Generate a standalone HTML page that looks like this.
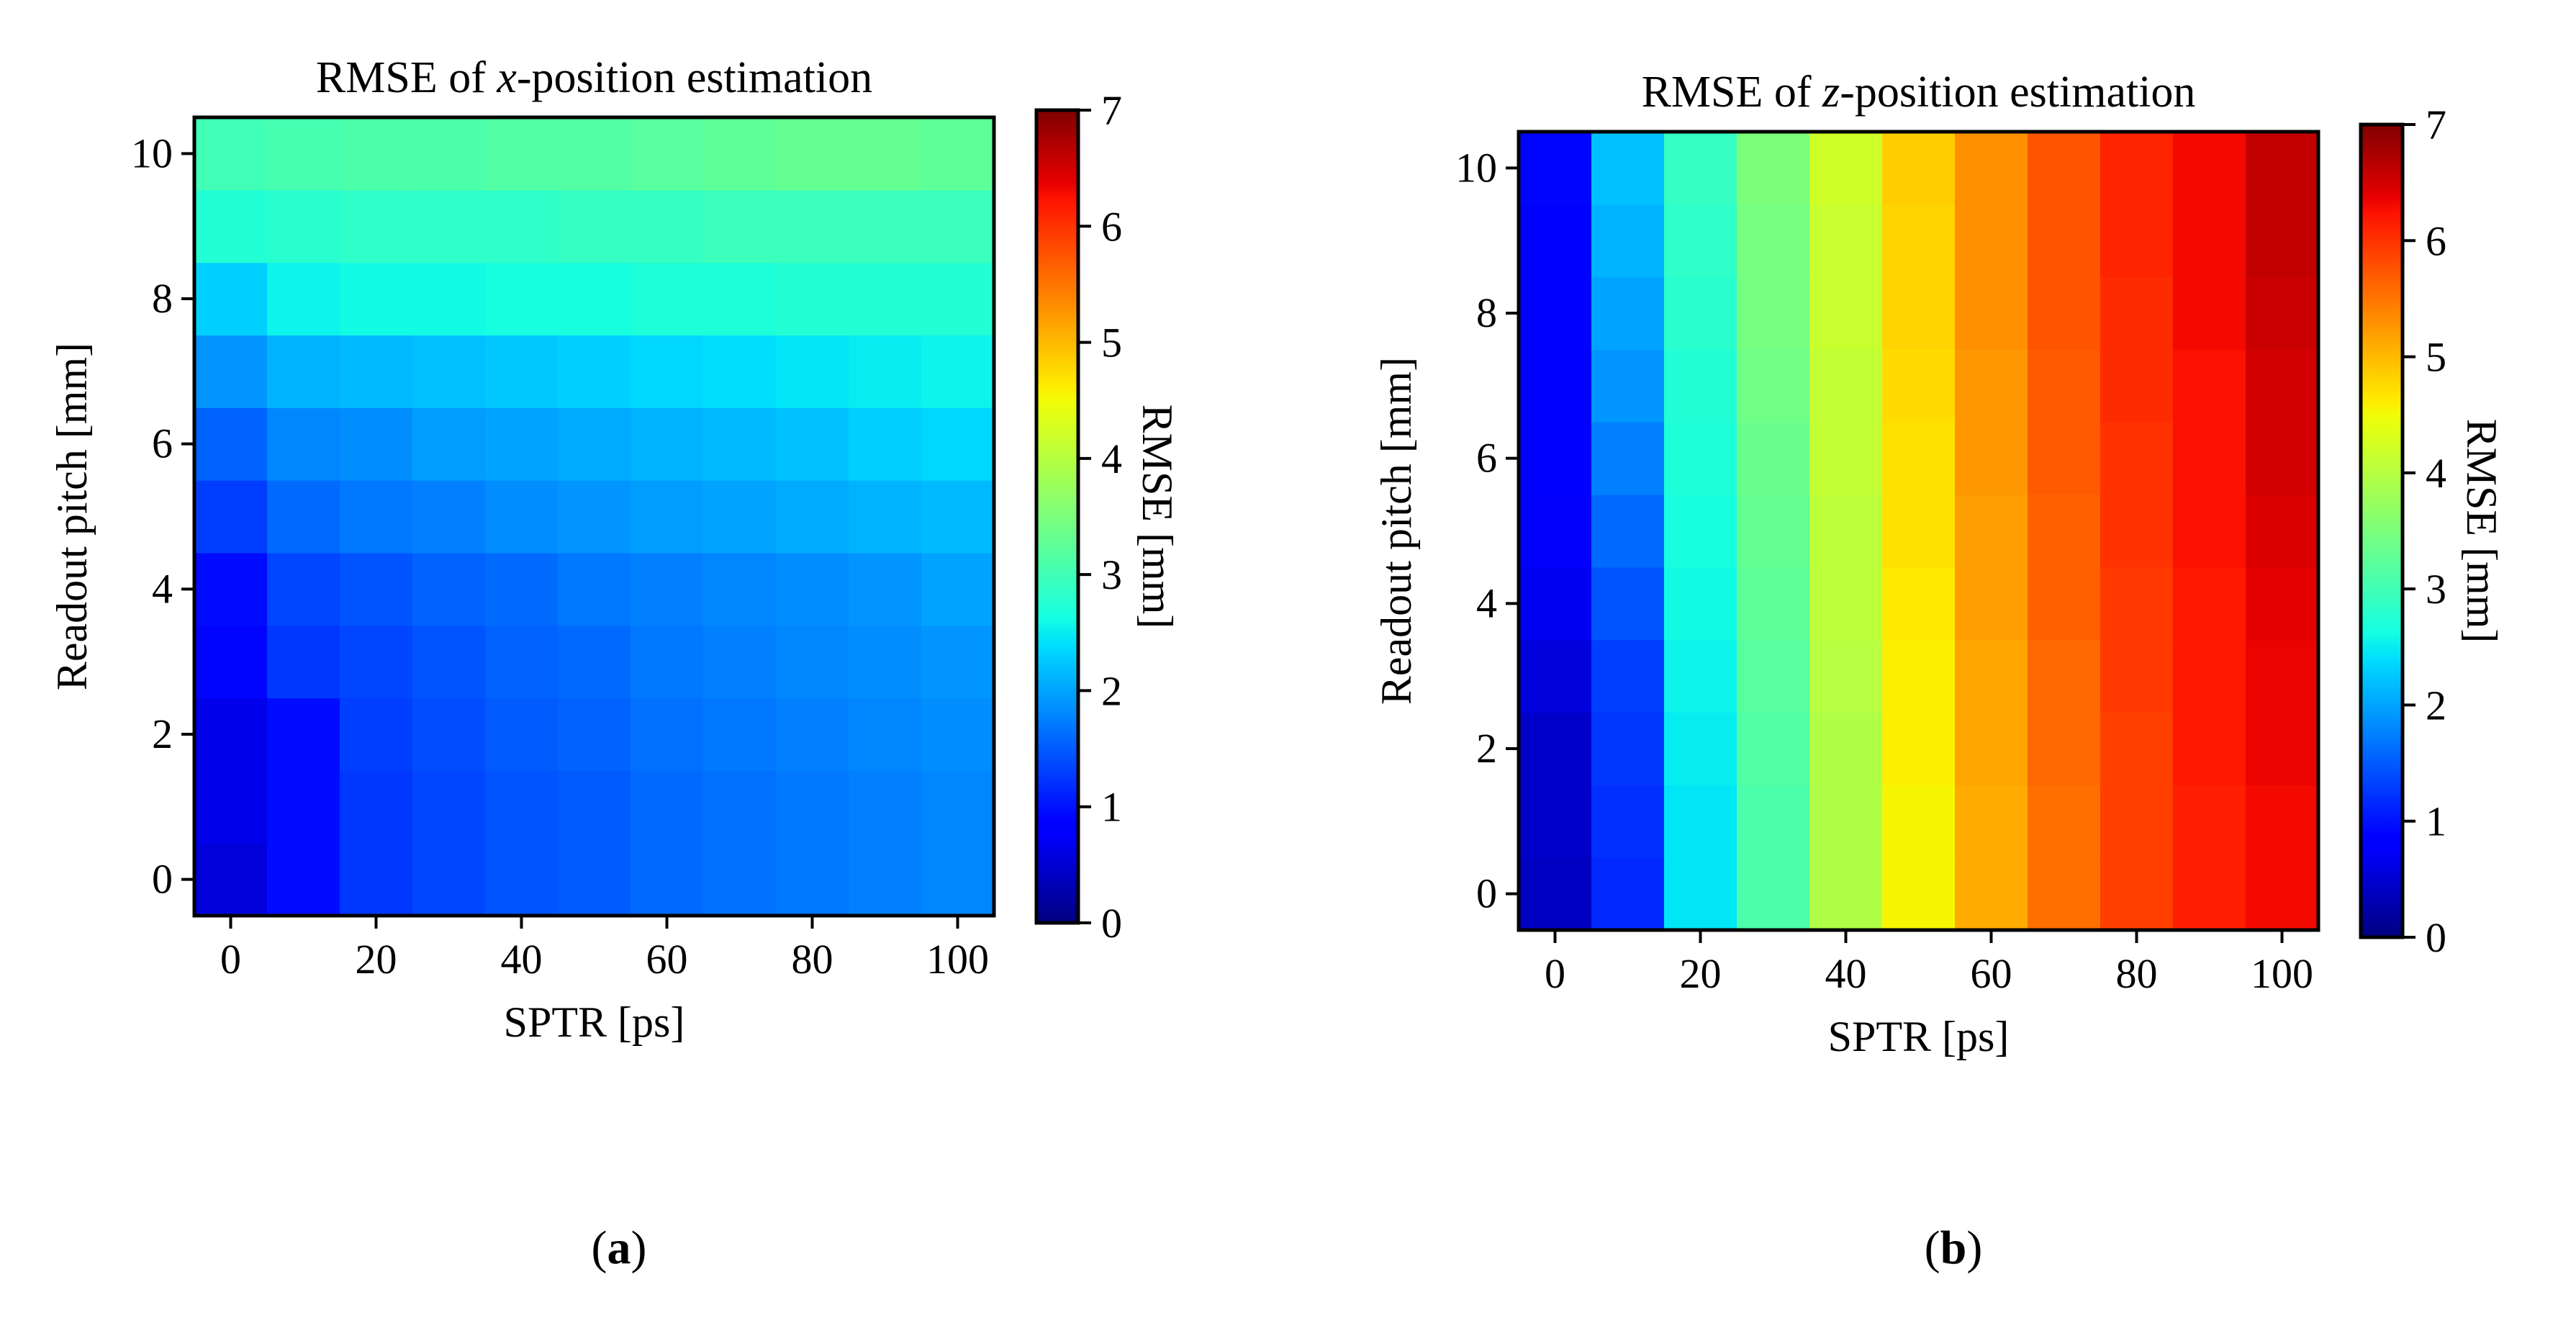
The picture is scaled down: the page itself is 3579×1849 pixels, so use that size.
<!DOCTYPE html>
<html><head><meta charset="utf-8">
<style>
html,body{margin:0;padding:0;background:#fff;}
svg{display:block;font-family:"Liberation Serif",serif;}
</style></head>
<body>
<svg id="fig" width="3579" height="1849" viewBox="0 0 3579 1849" xmlns="http://www.w3.org/2000/svg"></svg>
<script>
const sptrCategories = [0,10,20,30,40,50,60,70,80,90,100];
const pitchCategories = [0,1,2,3,4,5,6,7,8,9,10];
const xTickLabels = [0,20,40,60,80,100];
const yTickLabels = [0,2,4,6,8,10];
const cbTickLabels = [0,1,2,3,4,5,6,7];
// x-position RMSE, rows = pitch 0..10, cols = SPTR 0..100
const rmseX = [
 [0.55,0.95,1.25,1.35,1.45,1.5,1.6,1.65,1.7,1.75,1.8],
 [0.65,0.95,1.25,1.35,1.45,1.5,1.6,1.65,1.7,1.75,1.8],
 [0.65,0.95,1.3,1.4,1.5,1.55,1.65,1.7,1.75,1.8,1.85],
 [0.9,1.25,1.35,1.45,1.55,1.6,1.7,1.75,1.8,1.85,1.9],
 [0.95,1.35,1.45,1.55,1.6,1.7,1.75,1.8,1.85,1.9,2.0],
 [1.3,1.6,1.7,1.75,1.85,1.9,1.95,2.0,2.05,2.1,2.15],
 [1.55,1.8,1.85,1.95,2.0,2.05,2.1,2.15,2.2,2.3,2.35],
 [1.9,2.1,2.15,2.2,2.25,2.3,2.35,2.4,2.45,2.5,2.55],
 [2.3,2.55,2.6,2.6,2.65,2.65,2.7,2.7,2.75,2.75,2.75],
 [2.75,2.8,2.85,2.85,2.85,2.9,2.9,2.95,2.95,2.95,2.95],
 [3.0,3.05,3.1,3.1,3.15,3.15,3.2,3.25,3.3,3.3,3.25]
];
// z-position RMSE
const rmseZ = [
 [0.4,1.15,2.45,3.1,3.95,4.55,5.1,5.55,5.9,6.15,6.3],
 [0.45,1.2,2.45,3.1,3.95,4.55,5.1,5.55,5.9,6.15,6.3],
 [0.45,1.25,2.5,3.15,3.95,4.6,5.15,5.6,5.9,6.2,6.35],
 [0.55,1.3,2.55,3.2,4.0,4.6,5.15,5.6,5.95,6.2,6.35],
 [0.7,1.45,2.6,3.25,4.05,4.65,5.2,5.65,5.95,6.2,6.4],
 [0.75,1.6,2.65,3.3,4.05,4.7,5.2,5.65,6.0,6.25,6.45],
 [0.8,1.75,2.7,3.35,4.1,4.7,5.25,5.7,6.0,6.25,6.5],
 [0.8,1.9,2.75,3.4,4.1,4.75,5.25,5.7,6.05,6.25,6.5],
 [0.85,2.0,2.8,3.45,4.15,4.8,5.3,5.75,6.05,6.3,6.55],
 [0.85,2.1,2.85,3.45,4.15,4.8,5.3,5.75,6.1,6.3,6.6],
 [0.9,2.2,2.9,3.5,4.2,4.85,5.3,5.75,6.1,6.3,6.6]
];

const NS="http://www.w3.org/2000/svg";
const svg=document.getElementById('fig');
function mk(tag,attrs,parent){const e=document.createElementNS(NS,tag);for(const k in attrs)e.setAttribute(k,attrs[k]);(parent||svg).appendChild(e);return e;}
function seg(pts,t){for(let i=1;i<pts.length;i++){if(t<=pts[i][0]){const a=pts[i-1],b=pts[i];return a[1]+(b[1]-a[1])*(t-a[0])/(b[0]-a[0]);}}return pts[pts.length-1][1];}
const RP=[[0,0],[0.35,0],[0.66,1],[0.89,1],[1,0.5]];
const GP=[[0,0],[0.125,0],[0.375,1],[0.64,1],[0.91,0],[1,0]];
const BP=[[0,0.5],[0.11,1],[0.34,1],[0.65,0],[1,0]];
function jet(v){
  const t=Math.max(0,Math.min(1,v/7));
  return `rgb(${Math.round(seg(RP,t)*255)},${Math.round(seg(GP,t)*255)},${Math.round(seg(BP,t)*255)})`;
}
const defs=mk('defs',{});
const grad=mk('linearGradient',{id:'jetgrad',x1:0,y1:1,x2:0,y2:0},defs);
for(let i=0;i<=56;i++){mk('stop',{offset:(i/56),'stop-color':jet(7*i/56)},grad);}

function panel(cfg){
  const g=mk('g',{});
  
  
  const {L,R,T,B}=cfg;
  const xs=v=>L+(v+5)/110*(R-L);
  const ys=v=>B-(v+0.5)/11*(B-T);
  const cw=(R-L)/11, ch=(B-T)/11;
  cfg.data.forEach((row,ri)=>{row.forEach((val,ci)=>{
    const c=mk('rect',{x:xs(sptrCategories[ci])-cw/2,y:ys(pitchCategories[ri])-ch/2,width:cw+0.6,height:ch+0.6,fill:jet(val)},g);
    
    
  });});
  const fr=mk('rect',{x:L,y:T,width:R-L,height:B-T,fill:'none',stroke:'#000','stroke-width':5},g);
  
  
  xTickLabels.forEach(v=>{
    mk('line',{x1:xs(v),x2:xs(v),y1:B,y2:B+18,stroke:'#000','stroke-width':4},g);
    const t=mk('text',{x:xs(v),y:B+80,'font-size':58,'text-anchor':'middle'},g);t.textContent=v;
    
    
  });
  yTickLabels.forEach(v=>{
    mk('line',{x1:L-18,x2:L,y1:ys(v),y2:ys(v),stroke:'#000','stroke-width':4},g);
    const t=mk('text',{x:L-30,y:ys(v)+19,'font-size':58,'text-anchor':'end'},g);t.textContent=v;
    
    
  });
  const xt=mk('text',{x:(L+R)/2,y:B+168,'font-size':60,'text-anchor':'middle'},g);xt.textContent='SPTR [ps]';
  
  
  const yt=mk('text',{x:0,y:0,'font-size':60,'text-anchor':'middle',transform:`translate(${L-150},${(T+B)/2}) rotate(-90)`},g);yt.textContent='Readout pitch [mm]';
  
  
  const ti=mk('text',{x:(L+R)/2,y:T-35,'font-size':62,'text-anchor':'middle'},g);
  
  
  ti.appendChild(document.createTextNode('RMSE of '));
  const it=mk('tspan',{'font-style':'italic'},ti);it.textContent=cfg.axisVar;
  ti.appendChild(document.createTextNode('-position estimation'));
  const {CL,CR,CT,CB}=cfg;
  const cb=mk('rect',{x:CL,y:CT,width:CR-CL,height:CB-CT,fill:'url(#jetgrad)',stroke:'#000','stroke-width':5},g);
  
  
  const cs=v=>CB-v/7*(CB-CT);
  cbTickLabels.forEach(v=>{
    mk('line',{x1:CR,x2:CR+18,y1:cs(v),y2:cs(v),stroke:'#000','stroke-width':4},g);
    const t=mk('text',{x:CR+32,y:cs(v)+20,'font-size':58},g);t.textContent=v;
    
    
  });
  const ct=mk('text',{x:0,y:0,'font-size':60,'text-anchor':'middle',transform:`translate(${CR+90},${(CT+CB)/2}) rotate(90)`},g);ct.textContent='RMSE [mm]';
  
  
  const sl=mk('text',{x:cfg.subX,y:1755,'font-size':66,'text-anchor':'middle'},g);
  
  
  sl.appendChild(document.createTextNode('('));
  const bb=mk('tspan',{'font-weight':'bold'},sl);bb.textContent=cfg.sub;
  sl.appendChild(document.createTextNode(')'));
}
panel({name:'panel-a-x-rmse',data:rmseX,axisVar:'x',L:270,R:1381,T:163,B:1272,CL:1440,CR:1498,CT:153,CB:1282,sub:'a',subX:860});
panel({name:'panel-b-z-rmse',data:rmseZ,axisVar:'z',L:2110,R:3221,T:183,B:1292,CL:3280,CR:3338,CT:173,CB:1302,sub:'b',subX:2714});
</script>
</body></html>
